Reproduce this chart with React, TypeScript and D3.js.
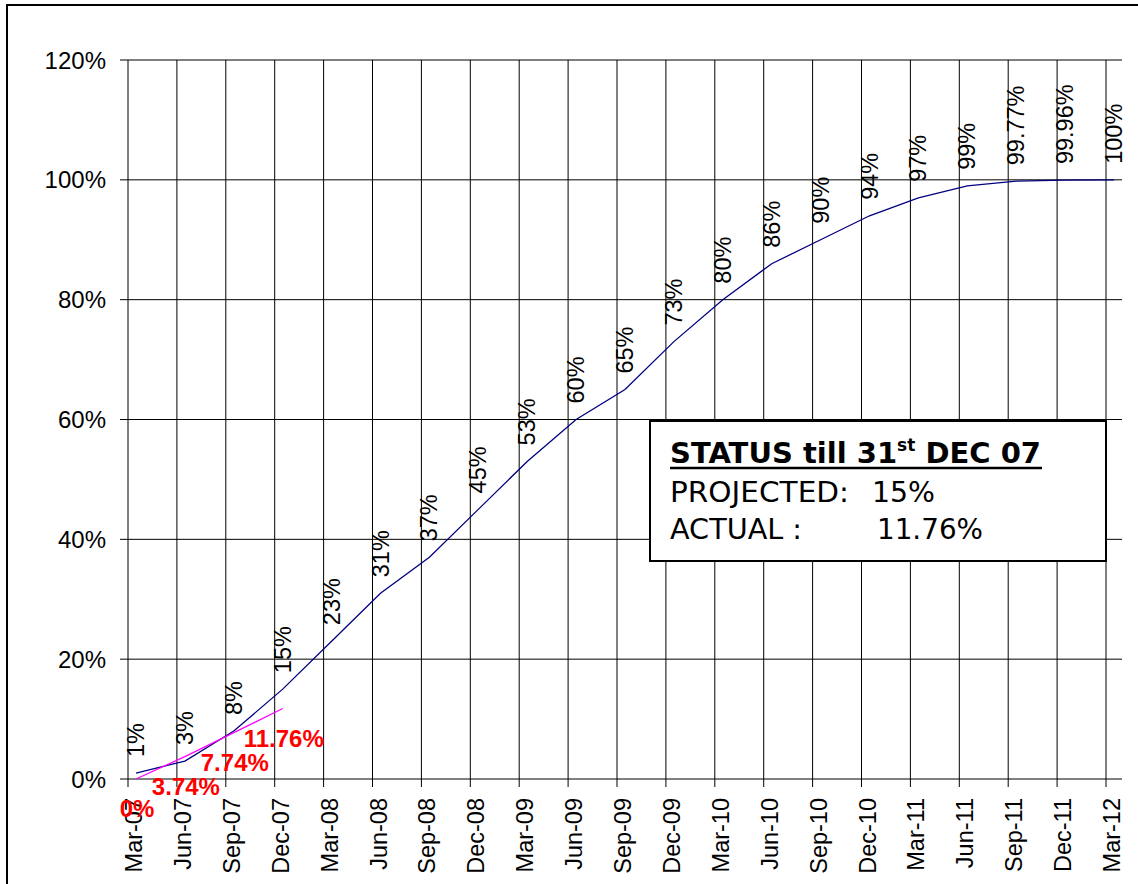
import * as d3 from "d3";

const CATEGORIES = [
  "Mar-07", "Jun-07", "Sep-07", "Dec-07", "Mar-08", "Jun-08", "Sep-08",
  "Dec-08", "Mar-09", "Jun-09", "Sep-09", "Dec-09", "Mar-10", "Jun-10",
  "Sep-10", "Dec-10", "Mar-11", "Jun-11", "Sep-11", "Dec-11", "Mar-12",
];
const PROJECTED = [1, 3, 8, 15, 23, 31, 37, 45, 53, 60, 65, 73, 80, 86, 90, 94, 97, 99, 99.77, 99.96, 100];
const PROJECTED_LABELS = [
  "1%", "3%", "8%", "15%", "23%", "31%", "37%", "45%", "53%", "60%", "65%",
  "73%", "80%", "86%", "90%", "94%", "97%", "99%", "99.77%", "99.96%", "100%",
];
const ACTUAL = [0, 3.74, 7.74, 11.76];
const ACTUAL_LABELS = ["0%", "3.74%", "7.74%", "11.76%"];
const Y_TICKS = [0, 20, 40, 60, 80, 100, 120];

const W = 1138;
const H = 884;
const FONT = "Liberation Sans, Arial, sans-serif";
const BOX_FONT = "DejaVu Sans, Verdana, sans-serif";

export default function App() {
  // gridline positions
  const xGrid = d3.scalePoint<string>().domain(CATEGORIES).range([128, 1106]);
  // data points sit slightly right of the gridlines in the original
  const xPt = d3.scalePoint<string>().domain(CATEGORIES).range([136, 1114]);
  const y = d3.scaleLinear().domain([0, 120]).range([779, 60]);
  const plotLeft = 128;
  const plotRight = 1122;

  const line = d3
    .line<number>()
    .x((_, i) => xPt(CATEGORIES[i]) as number)
    .y((d) => y(d));

  return (
    <svg
      width={W}
      height={H}
      style={{ position: "absolute", left: 0, top: 0, background: "#fff" }}
    >
      <rect x={0} y={0} width={W} height={H} fill="#fff" />
      {/* outer chart frame (right/bottom lie outside the picture) */}
      <rect x={7} y={5} width={W + 20} height={H + 20} fill="none" stroke="#000" strokeWidth={2} />

      {/* horizontal gridlines + y ticks */}
      {Y_TICKS.map((t) => (
        <g key={t}>
          <line x1={plotLeft - 8} x2={plotRight} y1={y(t)} y2={y(t)} stroke="#000" strokeWidth={1} />
          <text
            x={106}
            y={y(t)}
            textAnchor="end"
            dominantBaseline="central"
            fontFamily={FONT}
            fontSize={24}
            fill="#000"
          >
            {t}%
          </text>
        </g>
      ))}

      {/* vertical gridlines + x labels */}
      {CATEGORIES.map((c) => {
        const gx = xGrid(c) as number;
        return (
          <g key={c}>
            <line x1={gx} x2={gx} y1={y(120)} y2={y(0) + 8} stroke="#000" strokeWidth={1} />
            <text
              transform={`translate(${gx + 6},798) rotate(-90)`}
              textAnchor="end"
              dominantBaseline="central"
              fontFamily={FONT}
              fontSize={23.5}
              fill="#000"
            >
              {c}
            </text>
          </g>
        );
      })}

      {/* projected line */}
      <path d={line(PROJECTED) ?? ""} fill="none" stroke="#000080" strokeWidth={1.3} />
      {PROJECTED.map((v, i) => (
        <text
          key={CATEGORIES[i]}
          transform={`translate(${xPt(CATEGORIES[i])},${y(v) - 16}) rotate(-90)`}
          textAnchor="start"
          dominantBaseline="central"
          fontFamily={FONT}
          fontSize={23.5}
          fill="#000"
        >
          {PROJECTED_LABELS[i]}
        </text>
      ))}

      {/* actual line */}
      <path d={line(ACTUAL) ?? ""} fill="none" stroke="#ff00ff" strokeWidth={1.3} />
      {ACTUAL.map((v, i) => (
        <text
          key={CATEGORIES[i]}
          x={(xPt(CATEGORIES[i]) as number) + 1}
          y={y(v) + 38}
          textAnchor="middle"
          fontFamily={FONT}
          fontWeight="bold"
          fontSize={24}
          fill="#ff0000"
        >
          {ACTUAL_LABELS[i]}
        </text>
      ))}

      {/* status box */}
      <g fontFamily={BOX_FONT} fill="#000">
        <rect x={650} y={421} width={456} height={140} fill="#fff" stroke="#000" strokeWidth={2} />
        <text x={670} y={463} fontSize={29} fontWeight="bold">
          STATUS till 31
          <tspan dy={-12} fontSize={17}>st</tspan>
          <tspan dy={12}> DEC 07</tspan>
        </text>
        <line x1={670} x2={1042} y1={468} y2={468} stroke="#000" strokeWidth={2.5} />
        <text x={670} y={502} fontSize={28} textLength={179} lengthAdjust="spacingAndGlyphs">PROJECTED:</text>
        <text x={872} y={502} fontSize={28} textLength={63} lengthAdjust="spacingAndGlyphs">15%</text>
        <text x={670} y={539} fontSize={28} textLength={132} lengthAdjust="spacingAndGlyphs">ACTUAL :</text>
        <text x={877} y={539} fontSize={28} textLength={106} lengthAdjust="spacingAndGlyphs">11.76%</text>
      </g>
    </svg>
  );
}
